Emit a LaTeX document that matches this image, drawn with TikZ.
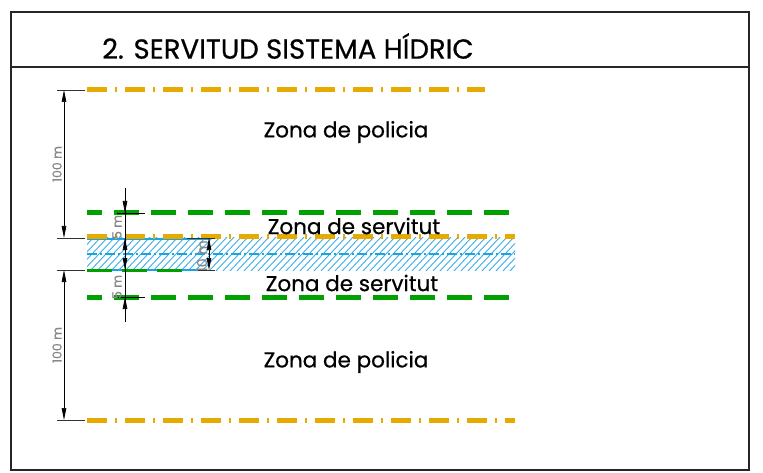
\documentclass[tikz,border=0pt]{standalone}
\usepackage{fontspec}
\setmainfont{Poppins}[FakeBold=0.6]
\usetikzlibrary{arrows.meta}
\definecolor{orng}{RGB}{230,170,0}
\definecolor{grn}{RGB}{0,160,0}
\definecolor{blu}{RGB}{25,165,225}
\definecolor{hatchblue}{RGB}{60,175,232}
\definecolor{dimgray}{RGB}{135,135,135}
\begin{document}
\begin{tikzpicture}[x=1pt,y=-1pt,
  orangeline/.style={draw=orng, line width=5pt, dash pattern=on 20pt off 8pt on 2pt off 8pt},
  greenline/.style={draw=grn, line width=5pt, dash pattern=on 25pt off 12pt},
  bluecenter/.style={draw=blu, line width=1.4pt, dash pattern=on 10pt off 3pt on 2pt off 3pt},
  blueedge/.style={draw=blu, line width=1.4pt},
  dimline/.style={draw=black, line width=0.7pt},
  extline/.style={draw=black!80, line width=0.7pt},
  tip/.style={-{Triangle[length=12pt,width=4.5pt]}},
  dimtext/.style={text=dimgray, rotate=90, inner sep=0pt, font=\fontsize{12.5}{14}\selectfont},
  zonetext/.style={inner sep=0pt, font=\fontsize{21.5}{25}\selectfont}
]
\useasboundingbox (0,0) rectangle (763,473);
\fill[white] (0,0) rectangle (763,473);
% frame
\draw[line width=1.1pt, black!85] (11,12) rectangle (749,470);
\draw[line width=1.1pt, black!85] (11,67) -- (749,67);
\node[anchor=west, inner sep=0pt, font=\fontsize{27.5}{32}\selectfont] (title) at (102,46) {2. SERVITUD SISTEMA HÍDRIC};

% hatched band
\begin{scope}
  \clip (87,238) rectangle (515,270);
  \foreach \x in {40,47,...,520} {
    \draw[hatchblue, line width=0.9pt] (\x,272) -- (\x+34,236);
  }
\end{scope}
\draw[bluecenter] (87,254) -- (515,254);
\draw[blueedge] (87,239) -- (210,239);
\draw[blueedge] (87,270) -- (205,270);
\draw[draw=grn, line width=3pt, dash pattern=on 25pt off 10pt] (87,270) -- (185,270);

% zone lines
\draw[orangeline] (87,90) -- (485,90);
\draw[greenline, dash phase=10pt] (87,213) -- (512,213);
\draw[orangeline] (87,237) -- (515,237);
\draw[greenline, dash phase=10pt] (87,297) -- (515,297);
\draw[orangeline] (87,420) -- (515,420);

% 100 m dimensions
\coordinate (a1) at (64,90);
\coordinate (a2) at (64,238);
\coordinate (a3) at (64,270);
\coordinate (a4) at (64,420);
\draw[extline] (57,90) -- (85,90);
\draw[extline] (57,238) -- (85,238);
\draw[extline] (57,270) -- (85,270);
\draw[extline] (57,420) -- (85,420);
\draw[dimline, {Triangle[length=12pt,width=4.5pt]}-{Triangle[length=12pt,width=4.5pt]}] (a1) -- (a2);
\draw[dimline, {Triangle[length=12pt,width=4.5pt]}-{Triangle[length=12pt,width=4.5pt]}] (a3) -- (a4);
\node[dimtext] (l100a) at (57,164) {100 m};
\node[dimtext] (l100b) at (57,345) {100 m};

% 5 m chain
\coordinate (c0) at (125,188);
\coordinate (c1) at (125,213);
\coordinate (c2) at (125,238);
\coordinate (c3) at (125,270);
\coordinate (c4) at (125,297);
\coordinate (c5) at (125,322);
\draw[dimline] (c0) -- (c5);
\draw[dimline, tip] (125,198) -- (c1);
\draw[dimline, tip] (125,253) -- (c2);
\draw[dimline, tip] (125,255) -- (c3);
\draw[dimline, tip] (125,312) -- (c4);
\draw[dimline] (117,213) -- (145,213);
\draw[dimline] (117,297) -- (145,297);
\node[dimtext] (l5a) at (117,227) {5 m};
\node[dimtext] (l5b) at (117,287) {5 m};

% 10 m
\coordinate (d1) at (209,238);
\coordinate (d2) at (209,270);
\draw[extline] (187,238) -- (215,238);
\draw[extline] (197,270) -- (215,270);
\draw[dimline, {Triangle[length=12pt,width=4.5pt]}-{Triangle[length=12pt,width=4.5pt]}] (d1) -- (d2);
\node[dimtext, font=\fontsize{14}{16}\selectfont] (l10) at (202,256) {10 m};

% zone labels
\node[zonetext] (pol1) at (346,132) {Zona de policia};
\node[zonetext] (ser1) at (354,226) {Zona de servitut};
\node[zonetext] (ser2) at (352,283) {Zona de servitut};
\node[zonetext] (pol2) at (346,362) {Zona de policia};
\end{tikzpicture}
\end{document}
